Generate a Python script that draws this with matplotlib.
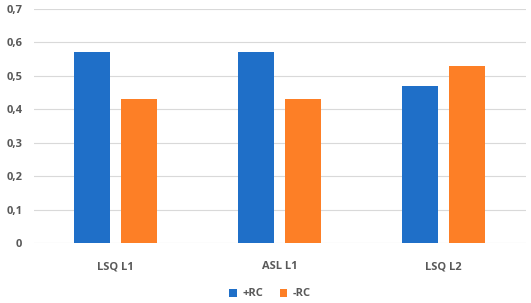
import numpy as np
import matplotlib.pyplot as plt
from matplotlib.ticker import FuncFormatter

# dados
categorias = ['LSQ L1', 'ASL L1', 'LSQ L2']
mais_rc = [0.57, 0.57, 0.47]
menos_rc = [0.43, 0.43, 0.53]

azul = '#1f6fc8'
laranja = '#fd7f26'
cinza = '#595959'

plt.rcParams['font.family'] = ['Open Sans', 'DejaVu Sans']

fig = plt.figure(figsize=(5.31, 3.03), dpi=100)
ax = fig.add_axes([33.5 / 531, 60 / 303, 492 / 531, 234 / 303])

x = np.arange(len(categorias))
larg = 0.22
ax.bar(x - 0.143, mais_rc, larg, color=azul, label='+RC', zorder=3)
ax.bar(x + 0.143, menos_rc, larg, color=laranja, label='-RC', zorder=3)

ax.set_xlim(-0.5, 2.5)
ax.set_ylim(0, 0.7)
ax.set_yticks(np.arange(0, 0.71, 0.1))
ax.yaxis.set_major_formatter(FuncFormatter(
    lambda v, p: '0' if abs(v) < 1e-9 else ('%.1f' % v).replace('.', ',')))
ax.set_xticks(x)
ax.set_xticklabels(categorias)

ax.grid(axis='y', color='#d9d9d9', linewidth=0.8, zorder=0)
for s in ax.spines.values():
    s.set_visible(False)
ax.tick_params(length=0, labelcolor=cinza, labelsize=8)
ax.tick_params(axis='y', pad=8)
ax.tick_params(axis='x', pad=13)
for t in ax.get_xticklabels() + ax.get_yticklabels():
    t.set_fontweight('bold')

leg = ax.legend(loc='center', bbox_to_anchor=(270 / 531, 9 / 303),
                bbox_transform=fig.transFigure, ncol=2, frameon=False,
                handlelength=0.7, handleheight=0.7, columnspacing=1.5,
                handletextpad=0.5, prop={'size': 8, 'weight': 'bold'})
for t in leg.get_texts():
    t.set_color(cinza)

fig.savefig('out.png', dpi=100, facecolor='white')
